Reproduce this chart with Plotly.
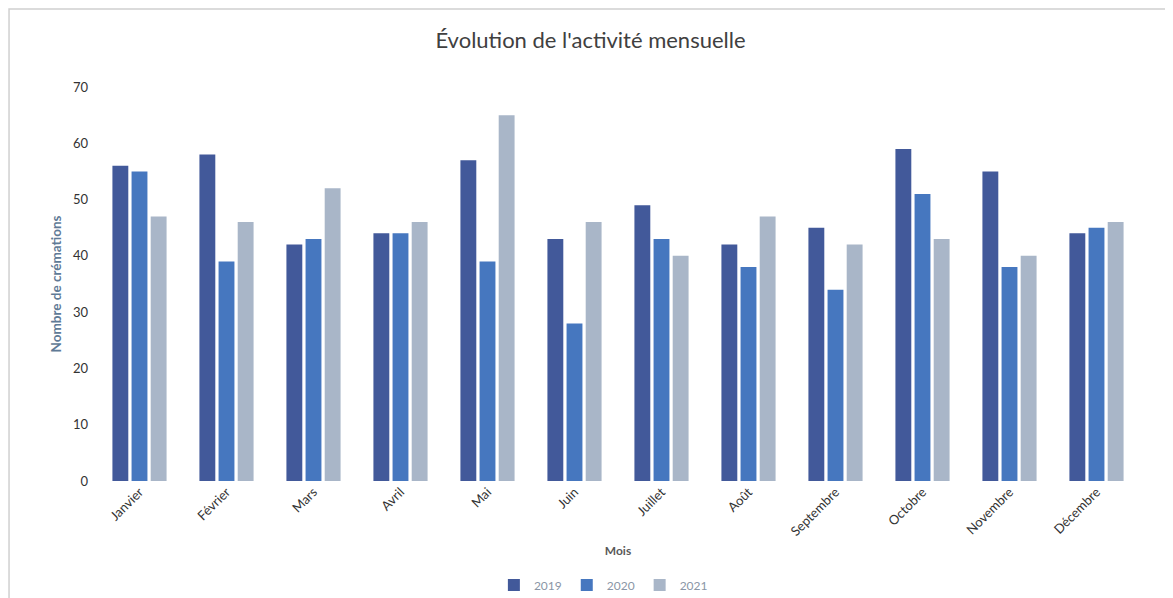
import plotly.graph_objects as go

mois = ["Janvier", "Février", "Mars", "Avril", "Mai", "Juin", "Juillet",
        "Août", "Septembre", "Octobre", "Novembre", "Décembre"]
v2019 = [56, 58, 42, 44, 57, 43, 49, 42, 45, 59, 55, 44]
v2020 = [55, 39, 43, 44, 39, 28, 43, 38, 34, 51, 38, 45]
v2021 = [47, 46, 52, 46, 65, 46, 40, 47, 42, 43, 40, 46]
y_ticks = [0, 10, 20, 30, 40, 50, 60, 70]

series = [("2019", v2019, "#42599a"), ("2020", v2020, "#4677bf"), ("2021", v2021, "#a9b6c8")]

fig = go.Figure()
for name, vals, col in series:
    fig.add_trace(go.Bar(x=mois, y=vals, name=name, marker=dict(color=col, line=dict(width=0))))

fig.update_layout(
    width=1165, height=590,
    margin=dict(l=88, r=33, t=79, b=117, autoexpand=False),
    paper_bgcolor="white", plot_bgcolor="white",
    font=dict(family="Lato, Open Sans, sans-serif", color="#404040"),
    title=dict(text="Évolution de l'activité mensuelle", x=0.5, xanchor="center",
               y=0.946, yanchor="middle", font=dict(size=22, color="#404040")),
    barmode="group", bargap=0.34, bargroupgap=0.17,
    xaxis=dict(tickangle=-45, tickfont=dict(size=13, color="#333333"), automargin=False,
               showgrid=False, showline=False, ticks="",
               title=dict(text="<b>Mois</b>", font=dict(size=12, color="#595959"), standoff=8)),
    yaxis=dict(range=[0, 70], tickvals=y_ticks, tickfont=dict(size=13, color="#333333"), automargin=False,
               showgrid=False, zeroline=False, showline=False, ticks="", ticklabelstandoff=7,
               title=dict(text="<b>Nombre de crémations</b>", font=dict(size=13.5, color="#5f7a96"), standoff=8)),
    legend=dict(orientation="h", x=0.486, xanchor="center", y=-0.264, yanchor="middle",
                font=dict(size=12, color="#8a96a6"), itemwidth=30, traceorder="normal"),
    shapes=[dict(type="rect", xref="paper", yref="paper",
                 x0=-0.0833, x1=1.0287, y0=-0.32, y1=1.198,
                 line=dict(color="#d0d0d0", width=1.5))],
)

fig.write_html("out.html")
